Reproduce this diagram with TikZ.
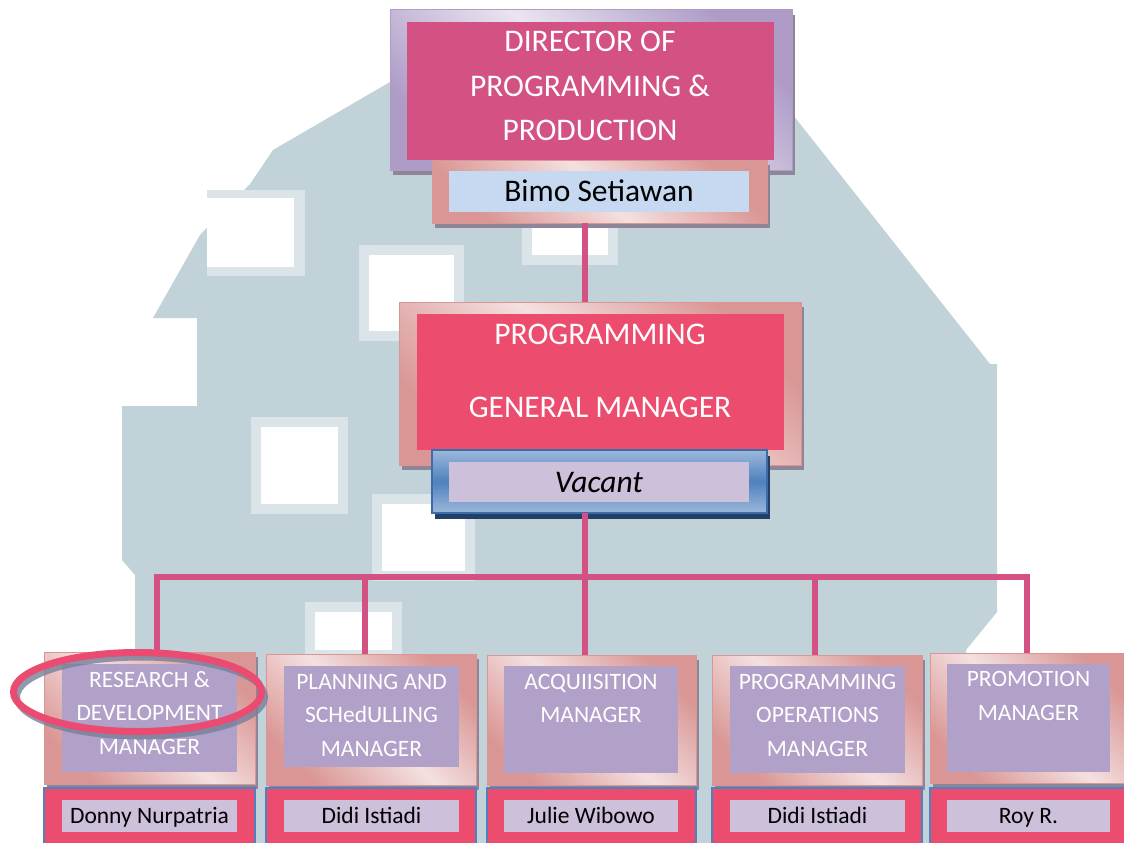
\documentclass[tikz,border=0pt]{standalone}
\usepackage{fontspec}
\setmainfont{Carlito}
\usetikzlibrary{shadows}

\definecolor{wmblue}{HTML}{C1D3D9}
\definecolor{wmedge}{HTML}{DAE4E9}
\definecolor{dirpink}{HTML}{D35283}
\definecolor{lavlight}{HTML}{EAE5F1}
\definecolor{lavdark}{HTML}{AE9CC7}
\definecolor{gmred}{HTML}{EC4C6E}
\definecolor{rimlight}{HTML}{F4E0E0}
\definecolor{rimdark}{HTML}{D99694}
\definecolor{bimoblue}{HTML}{C6D9F1}
\definecolor{vaclight}{HTML}{9CB8DA}
\definecolor{vacdark}{HTML}{4F81BD}
\definecolor{vacedge}{HTML}{3C6DAA}
\definecolor{lilac}{HTML}{CCC0DA}
\definecolor{mgrpurple}{HTML}{B1A0C7}
\definecolor{ringpink}{HTML}{EB4B70}
\definecolor{ringshade}{HTML}{76809C}
\definecolor{shadegray}{HTML}{8E8698}
\definecolor{shadenavy}{HTML}{243F66}

\tikzset{
  box/.style={inner sep=0pt, outer sep=0pt},
  lavframe/.style={box, draw=lavdark, line width=1pt,
    top color=lavdark, bottom color=lavdark, middle color=lavlight, shading angle=-45,
    general shadow={fill=shadegray, shadow xshift=3pt, shadow yshift=-5pt}},
  pinkframe/.style={box, draw=rimdark, line width=1pt,
    top color=rimdark, bottom color=rimdark, middle color=rimlight, shading angle=-45,
    general shadow={fill=shadegray, shadow xshift=3pt, shadow yshift=-5pt}},
  blueframe/.style={box, draw=vacedge, line width=1.5pt,
    top color=vaclight, bottom color=vaclight, middle color=vacdark,
    general shadow={fill=shadenavy, shadow xshift=3pt, shadow yshift=-6pt}},
  nameframe/.style={box, fill=gmred, draw=vacdark, line width=1.5pt},
  bigtext/.style={text=white, font=\fontsize{31.5}{44.5}\selectfont, align=center, inner sep=0pt},
  mgrtext/.style={text=white, font=\fontsize{23.5}{33.5}\selectfont, align=center, inner sep=0pt, anchor=north},
  persontext/.style={font=\fontsize{31.5}{38}\selectfont, text height=20pt, text depth=0pt},
  nametext/.style={font=\fontsize{23.5}{28}\selectfont, text height=15pt, text depth=0pt},
  link/.style={draw=dirpink, line width=6.5pt},
}

\begin{document}
\begin{tikzpicture}[x=1pt,y=-1pt]
  \fill[white] (0,0) rectangle (1124,843);
  \useasboundingbox (0,0) rectangle (1124,843);

  % watermark behind the chart
  \fill[wmblue] (135,843) -- (135,575) -- (122,560) -- (122,406) -- (197,406) -- (197,318)
    -- (153,318) -- (200,235) -- (250,184) -- (273,150) -- (390,82) -- (793,115)
    -- (990,364) -- (997,364) -- (997,612) -- (966,650) -- (966,843) -- cycle;
  \fill[wmedge] (207,190) rectangle (305,276);
  \fill[white] (207,198) rectangle (294,267);
  \foreach \xa/\ya/\xb/\yb in {359/245/464/341, 251/417/348/514,
      372/494/475/581, 305/602/402/660, 522/214/618/265}
  {
    \fill[wmedge] (\xa,\ya) rectangle (\xb,\yb);
    \fill[white] (\xa+10,\ya+10) rectangle (\xb-10,\yb-10);
  }

  % director
  \node[lavframe, minimum width=402pt, minimum height=160pt] (dir-o) at (591,90) {};
  \node[box, fill=dirpink, minimum width=367pt, minimum height=138pt] (dir) at (590.5,91) {};
  \node[bigtext] (dir-t) at (590,86) {DIRECTOR OF\\PROGRAMMING \&\\PRODUCTION};
  \node[pinkframe, minimum width=335pt, minimum height=63pt] (bimo-o) at (599.5,191.5) {};
  \node[box, persontext, fill=bimoblue, minimum width=300pt, minimum height=41pt] (bimo) at (599,191.5) {Bimo Setiawan};

  % general manager
  \node[pinkframe, minimum width=402pt, minimum height=163pt] (gm-o) at (600,383.5) {};
  \node[box, fill=gmred, minimum width=367pt, minimum height=136pt] (gm) at (600.5,382) {};
  \node[bigtext] (gm-t) at (600,370.5) {PROGRAMMING\\[28.5pt]GENERAL MANAGER};
  \node[blueframe, minimum width=335pt, minimum height=63pt] (vac-o) at (599.5,481.5) {};
  \node[box, persontext, fill=lilac, minimum width=300pt, minimum height=40pt] (vac) at (599,482) {\itshape Vacant};

  % managers
  \node[pinkframe, minimum width=211pt, minimum height=132pt] (rd-o) at (149.5,718) {};
  \node[box, fill=mgrpurple, minimum width=175pt, minimum height=108pt] (rd) at (149.5,718) {};
  \node[mgrtext] (rd-t) at (149.5,671) {RESEARCH \&\\DEVELOPMENT\\MANAGER};

  \node[pinkframe, minimum width=210pt, minimum height=131pt] (pl-o) at (371,719.5) {};
  \node[box, fill=mgrpurple, minimum width=175pt, minimum height=101pt] (pl) at (371.5,716.5) {};
  \node[mgrtext] (pl-t) at (371.5,674) {PLANNING AND\\SCHedULLING\\MANAGER};

  \node[pinkframe, minimum width=209pt, minimum height=130pt] (aq-o) at (591.5,720) {};
  \node[box, fill=mgrpurple, minimum width=174pt, minimum height=107pt] (aq) at (591,719.5) {};
  \node[mgrtext] (aq-t) at (591,674) {ACQUIISITION\\MANAGER};

  \node[pinkframe, minimum width=210pt, minimum height=130pt] (po-o) at (817,720) {};
  \node[box, fill=mgrpurple, minimum width=175pt, minimum height=107pt] (po) at (817.5,719.5) {};
  \node[mgrtext] (po-t) at (817.5,674) {PROGRAMMING\\OPERATIONS\\MANAGER};

  \node[pinkframe, minimum width=200pt, minimum height=130pt] (pr-o) at (1030,718) {};
  \node[box, fill=mgrpurple, minimum width=163pt, minimum height=108pt] (pr) at (1028.5,718) {};
  \node[mgrtext] (pr-t) at (1028.5,671.5) {PROMOTION\\MANAGER};

  % names
  \node[nameframe, minimum width=211pt, minimum height=56pt] (rd-n-o) at (149.5,816) {};
  \node[box, nametext, fill=lilac, minimum width=175pt, minimum height=32pt] (rd-n) at (149.5,816) {Donny Nurpatria};
  \node[nameframe, minimum width=210pt, minimum height=56pt] (pl-n-o) at (371,816) {};
  \node[box, nametext, fill=lilac, minimum width=175pt, minimum height=32pt] (pl-n) at (371.5,816) {Didi Istiadi};
  \node[nameframe, minimum width=209pt, minimum height=56pt] (aq-n-o) at (591.5,816) {};
  \node[box, nametext, fill=lilac, minimum width=174pt, minimum height=32pt] (aq-n) at (591,816) {Julie Wibowo};
  \node[nameframe, minimum width=210pt, minimum height=56pt] (po-n-o) at (817,816) {};
  \node[box, nametext, fill=lilac, minimum width=175pt, minimum height=32pt] (po-n) at (817.5,816) {Didi Istiadi};
  \node[nameframe, minimum width=200pt, minimum height=56pt] (pr-n-o) at (1030,816) {};
  \node[box, nametext, fill=lilac, minimum width=163pt, minimum height=32pt] (pr-n) at (1028.5,816) {Roy R.};

  % connectors
  \draw[link] ([xshift=-14.5pt]bimo-o.south) -- ([xshift=-14.5pt]bimo-o.south |- gm-o.north);
  \coordinate (bus) at (585,577);
  \draw[link] (vac-o.south -| bus) -- (bus);
  \foreach \m/\dx in {rd-o/7.5, pl-o/-6, aq-o/-6.5, po-o/-2, pr-o/-3}
    \draw[link] (bus) -| ([xshift=\dx pt]\m.north);

  % highlight ring
  \draw[ringshade, line width=6pt, opacity=0.8] (141,697) ellipse (124 and 39.5);
  \draw[ringpink, line width=7pt] (137.5,692) ellipse (124 and 39.5);
\end{tikzpicture}
\end{document}
